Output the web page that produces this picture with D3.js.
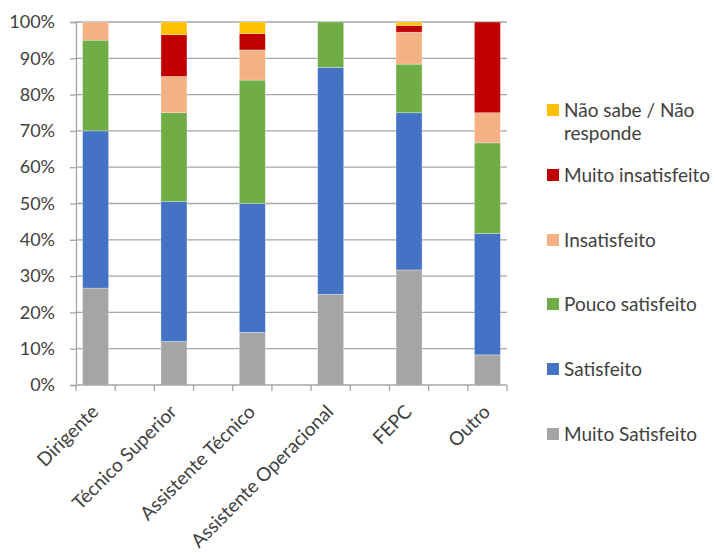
<!DOCTYPE html>
<html>
<head>
<meta charset="utf-8">
<script src="https://cdn.jsdelivr.net/npm/d3@7"></script>
<style>
  body { margin: 0; background: #fff; }
  svg text { font-family: "Lato", "Open Sans", sans-serif; fill: #404040; }
</style>
</head>
<body>
<svg id="chart" width="715" height="554"></svg>
<script>
// Categories (blank slots between groups leave the gaps on the axis)
const categories = ["Dirigente", "Técnico Superior", "Assistente Técnico",
                    "Assistente Operacional", "FEPC", "Outro"];
const seriesNames = ["Muito Satisfeito", "Satisfeito", "Pouco satisfeito",
                     "Insatisfeito", "Muito insatisfeito", "Não sabe / Não responde"];
const seriesColors = ["#A5A5A5", "#4472C4", "#70AD47", "#F4B183", "#C00000", "#FFC000"];

// Percentages per category, one array per series
const muitoSatisfeito   = [26.7, 12.0, 14.5, 25.0, 31.7,  8.3];
const satisfeito        = [43.3, 38.5, 35.5, 62.5, 43.3, 33.4];
const poucoSatisfeito   = [25.0, 24.5, 34.0, 12.5, 13.4, 25.0];
const insatisfeito      = [ 5.0, 10.0,  8.3,  0.0,  8.8,  8.3];
const muitoInsatisfeito = [ 0.0, 11.5,  4.5,  0.0,  1.8, 25.0];
const naoSabe           = [ 0.0,  3.5,  3.2,  0.0,  1.0,  0.0];

const yTicks = [0, 10, 20, 30, 40, 50, 60, 70, 80, 90, 100];

const seriesValues = [muitoSatisfeito, satisfeito, poucoSatisfeito,
                      insatisfeito, muitoInsatisfeito, naoSabe];

const rows = categories.map((c, i) => {
  const r = { cat: c };
  seriesNames.forEach((s, j) => { r[s] = seriesValues[j][i]; });
  return r;
});

const svg = d3.select("#chart");
const plotLeft = 76, plotRight = 507, plotTop = 22, plotBottom = 385;

// 11 slots: each category followed by an empty slot
const slots = [];
categories.forEach((c, i) => { slots.push(c); if (i < categories.length - 1) slots.push("_gap" + i); });

const xSlot = d3.scaleBand().domain(slots).range([plotLeft, plotRight]);
const y = d3.scaleLinear().domain([0, 100]).range([plotBottom, plotTop]);

// Gridlines
svg.append("g")
  .selectAll("line")
  .data(yTicks.filter(t => t > 0))
  .join("line")
  .attr("x1", plotLeft).attr("x2", plotRight)
  .attr("y1", d => y(d)).attr("y2", d => y(d))
  .attr("stroke", "#A6A6A6").attr("stroke-width", 1.3);

// Stacked bars
const stack = d3.stack().keys(seriesNames)(rows);
const barW = 26;
svg.append("g")
  .selectAll("g")
  .data(stack)
  .join("g")
  .attr("fill", (d, i) => seriesColors[i])
  .selectAll("rect")
  .data(d => d)
  .join("rect")
  .attr("x", d => xSlot(d.data.cat) + xSlot.bandwidth() / 2 - barW / 2)
  .attr("width", barW)
  .attr("y", d => y(d[1]))
  .attr("height", d => Math.max(0, y(d[0]) - y(d[1])))
  .attr("stroke", "#ffffff").attr("stroke-opacity", 0.5).attr("stroke-width", 0.6);

// Y axis
const yAxis = d3.axisLeft(y).tickValues(yTicks).tickFormat(d => d + "%").tickSize(6).tickPadding(15);
const gy = svg.append("g").attr("transform", `translate(${plotLeft},0)`).call(yAxis);
gy.select(".domain").attr("stroke", "#A6A6A6").attr("stroke-width", 1.3);
gy.selectAll(".tick line").attr("stroke", "#A6A6A6").attr("stroke-width", 1.3);
gy.selectAll(".tick text").attr("font-size", 18).attr("font-family", "Lato").attr("fill", "#404040");

// X axis line and ticks at slot boundaries
const bounds = d3.range(slots.length + 1).map(i => plotLeft + i * xSlot.step());
svg.append("line").attr("x1", plotLeft).attr("x2", plotRight).attr("y1", plotBottom).attr("y2", plotBottom)
  .attr("stroke", "#A6A6A6").attr("stroke-width", 1.3);
svg.append("g").selectAll("line").data(bounds).join("line")
  .attr("x1", d => d).attr("x2", d => d).attr("y1", plotBottom).attr("y2", plotBottom + 6)
  .attr("stroke", "#A6A6A6").attr("stroke-width", 1.3);

// Category labels, rotated
svg.append("g").selectAll("text").data(categories).join("text")
  .attr("transform", d => `translate(${xSlot(d) + xSlot.bandwidth() / 2 + 4},${plotBottom + 28}) rotate(-45)`)
  .attr("text-anchor", "end")
  .attr("font-size", 19)
  .text(d => d);

// Legend (top entry first)
const legendItems = seriesNames.map((s, i) => ({ name: s, color: seriesColors[i] })).reverse();
const lg = svg.append("g");
const legendY = [110, 175, 240, 304, 369, 434];
legendItems.forEach((d, i) => {
  const g = lg.append("g").attr("transform", `translate(547,${legendY[i]})`);
  g.append("rect").attr("x", 0).attr("y", -6).attr("width", 12).attr("height", 12).attr("fill", d.color);
  const t = g.append("text").attr("x", 17).attr("y", 0).attr("dy", "0.35em").attr("font-size", 19);
  if (d.name === "Não sabe / Não responde") {
    t.append("tspan").attr("x", 17).text("Não sabe / Não");
    t.append("tspan").attr("x", 17).attr("dy", 23).text("responde");
  } else {
    t.text(d.name);
  }
});
</script>
</body>
</html>
